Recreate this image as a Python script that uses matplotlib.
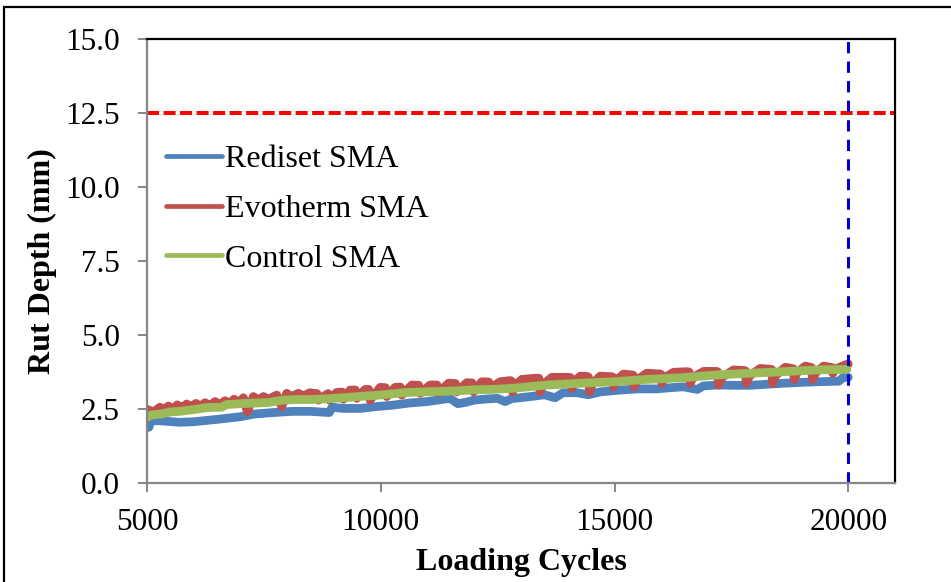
import numpy as np
import matplotlib.pyplot as plt
from matplotlib.lines import Line2D
from matplotlib.patches import Rectangle

plt.rcParams['font.family'] = ['Liberation Serif', 'DejaVu Serif']

# Rediset SMA (blue)
rediset_x = [5000, 5040, 5080, 5300, 5700, 6000, 6500, 7000, 7300, 7700, 8100, 8500,
             8900, 8960, 9200, 9560, 9900, 10260, 10600, 10990, 11300, 11480, 11650,
             11800, 12000, 12270, 12500, 12660, 12800, 13200, 13500, 13730, 13900,
             14200, 14440, 14700, 15120, 15500, 15910, 16200, 16470, 16770, 16900,
             17200, 17600, 17900, 18300, 18610, 19000, 19340, 19800, 19900, 20000]
rediset_y = [1.90, 1.88, 2.10, 2.10, 2.05, 2.07, 2.15, 2.24, 2.33, 2.38, 2.42, 2.42,
             2.38, 2.56, 2.52, 2.52, 2.58, 2.63, 2.70, 2.75, 2.82, 2.86, 2.68,
             2.72, 2.80, 2.84, 2.86, 2.75, 2.85, 2.92, 2.98, 2.88, 3.05,
             3.05, 2.98, 3.08, 3.14, 3.18, 3.18, 3.22, 3.25, 3.16, 3.28,
             3.31, 3.30, 3.30, 3.34, 3.37, 3.40, 3.42, 3.44, 3.58, 3.57]

# Evotherm SMA (red)
evotherm_x = [5000, 5135, 5278, 5364, 5456, 5563, 5649, 5742, 5849, 5934, 6049, 6134,
              6241, 6348, 6455, 6562, 6669, 6762, 6862, 6976, 7062, 7147, 7276, 7383,
              7490, 7597, 7775, 7882, 7989, 8096, 8238, 8345, 8488,
              8559, 8636, 8666, 8871, 8901, 9059, 9171, 9201, 9344,
              9457, 9487, 9665, 9742, 9772, 9986, 10099, 10129,
              10307, 10420, 10450, 10664, 10812, 10842, 11056, 11204,
              11234, 11448, 11597, 11627, 11841, 11953, 11983,
              12162, 12310, 12340,
              12554, 12768, 12790, 12818, 12870, 13018, 13303, 13380, 13410, 13470,
              13660, 14016, 14060, 14088, 14140, 14266, 14409, 14440, 14466, 14530,
              14693, 14943, 14960, 14979, 15040, 15193, 15371, 15400, 15421, 15480,
              15692, 15906, 15985, 16014, 16070,
              16263, 16548, 16595, 16619, 16680, 16904, 17176, 17205, 17226, 17290,
              17546, 17775, 17800, 17818, 17890, 18117, 18346, 18365, 18381, 18450,
              18652, 18795, 18825, 18845, 18900, 19080, 19187, 19215, 19237, 19300,
              19472, 19615, 19650, 19672, 19730, 19936, 20000]
evotherm_y = [2.49, 2.40, 2.56, 2.46, 2.60, 2.50, 2.64, 2.54, 2.67, 2.57, 2.69, 2.59,
              2.71, 2.62, 2.75, 2.65, 2.78, 2.68, 2.83, 2.72, 2.88, 2.41, 2.92, 2.80,
              2.92, 2.83, 2.97, 2.58, 3.03, 2.92, 3.03, 2.94, 3.05,
              3.03, 3.02, 2.80, 3.02, 2.80, 3.06, 3.07, 2.83, 3.14,
              3.14, 2.86, 3.16, 3.16, 2.80, 3.23, 3.22, 2.92,
              3.23, 3.24, 2.97, 3.31, 3.30, 3.03, 3.31, 3.31,
              3.05, 3.37, 3.36, 3.08, 3.39, 3.38, 3.08,
              3.42, 3.41, 3.20,
              3.42, 3.46, 3.45, 3.08, 3.30, 3.50, 3.54, 3.54, 3.08, 3.33,
              3.57, 3.57, 3.56, 3.20, 3.42, 3.61, 3.60, 3.58, 3.08, 3.36,
              3.61, 3.59, 3.58, 3.25, 3.47, 3.68, 3.65, 3.64, 3.25, 3.48,
              3.71, 3.69, 3.68, 3.37, 3.56,
              3.74, 3.76, 3.75, 3.37, 3.57, 3.77, 3.77, 3.76, 3.31, 3.56,
              3.82, 3.80, 3.79, 3.37, 3.62, 3.87, 3.84, 3.83, 3.37, 3.64,
              3.91, 3.87, 3.86, 3.50, 3.72, 3.95, 3.91, 3.90, 3.50, 3.72,
              3.95, 3.91, 3.90, 3.71, 3.85, 3.99, 4.02]

# Control SMA (green)
control_x = [5000, 5100, 5300, 5500, 5700, 6000, 6300, 6600, 6700, 7000, 7300, 7600,
             7900, 8200, 8500, 8900, 9200, 9600, 9900, 10300, 10557, 11000, 11400,
             11700, 12000, 12340, 12839, 13553, 14266, 14979, 15692, 15978, 16476,
             17190, 17903, 18616, 19329, 19971]
control_y = [2.22, 2.30, 2.33, 2.40, 2.42, 2.48, 2.55, 2.56, 2.65, 2.68, 2.70, 2.72,
             2.80, 2.82, 2.82, 2.85, 2.88, 2.93, 2.96, 3.02, 3.06, 3.08, 3.10,
             3.12, 3.15, 3.16, 3.20, 3.31, 3.37, 3.42, 3.50, 3.52, 3.56,
             3.65, 3.71, 3.76, 3.82, 3.84]

rut_limit = 12.5
cycle_limit = 20000

fig = plt.figure(figsize=(9.51, 5.82), dpi=100)
ax = fig.add_axes([147/951, 1-483/582, 748/951, 444/582])

lw = 6.3
ax.plot(rediset_x, rediset_y, color='#4F81BD', lw=lw, solid_joinstyle='round', solid_capstyle='round')
ax.plot(evotherm_x, evotherm_y, color='#C0504D', lw=lw, solid_joinstyle='round', solid_capstyle='round')
ax.plot(control_x, control_y, color='#9BBB59', lw=lw, solid_joinstyle='round', solid_capstyle='round')

ax.plot([5000, 21000], [rut_limit, rut_limit], color='#FF0000', lw=2.9, dashes=(3, 1.1))
ax.plot([cycle_limit, cycle_limit], [0, 15], color='#0000CC', lw=2.2, dashes=(3.7, 2.7))

ax.set_xlim(5000, 21000)
ax.set_ylim(0, 15)
ax.set_xticks([5000, 10000, 15000, 20000])
ax.set_yticks(np.arange(0, 15.1, 2.5))
ax.set_yticklabels(['%.1f' % v for v in np.arange(0, 15.1, 2.5)])

for s in ['top', 'right']:
    ax.spines[s].set_color('black')
    ax.spines[s].set_linewidth(1.6)
for s in ['left', 'bottom']:
    ax.spines[s].set_color('#868686')
    ax.spines[s].set_linewidth(1.6)
ax.tick_params(axis='both', direction='out', color='#868686', width=1.4, length=6.5,
               labelsize=22.5)
ax.tick_params(axis='y', pad=13)
ax.tick_params(axis='x', pad=11.5)

ax.set_xlabel('Loading Cycles', fontsize=23, fontweight='bold', labelpad=8)
ax.set_ylabel('Rut Depth (mm)', fontsize=23, fontweight='bold', labelpad=6)

handles = [Line2D([], [], color='#4F81BD', lw=3.4, solid_capstyle='round'),
           Line2D([], [], color='#C0504D', lw=3.4, solid_capstyle='round'),
           Line2D([], [], color='#9BBB59', lw=3.4, solid_capstyle='round')]
ax.legend(handles, ['Rediset SMA', 'Evotherm SMA', 'Control SMA'], loc='upper left',
          bbox_to_anchor=(0.025, 0.762), frameon=False, fontsize=23, handlelength=1.75,
          handletextpad=0.12, labelspacing=0.64, borderpad=0, borderaxespad=0)

# outer frame
fig.add_artist(Rectangle((4/951, -0.1), 1.2, 1.1 - 7/582, transform=fig.transFigure,
                         fill=False, edgecolor='black', lw=1.6, clip_on=False))

fig.savefig('out.png', dpi=100)
